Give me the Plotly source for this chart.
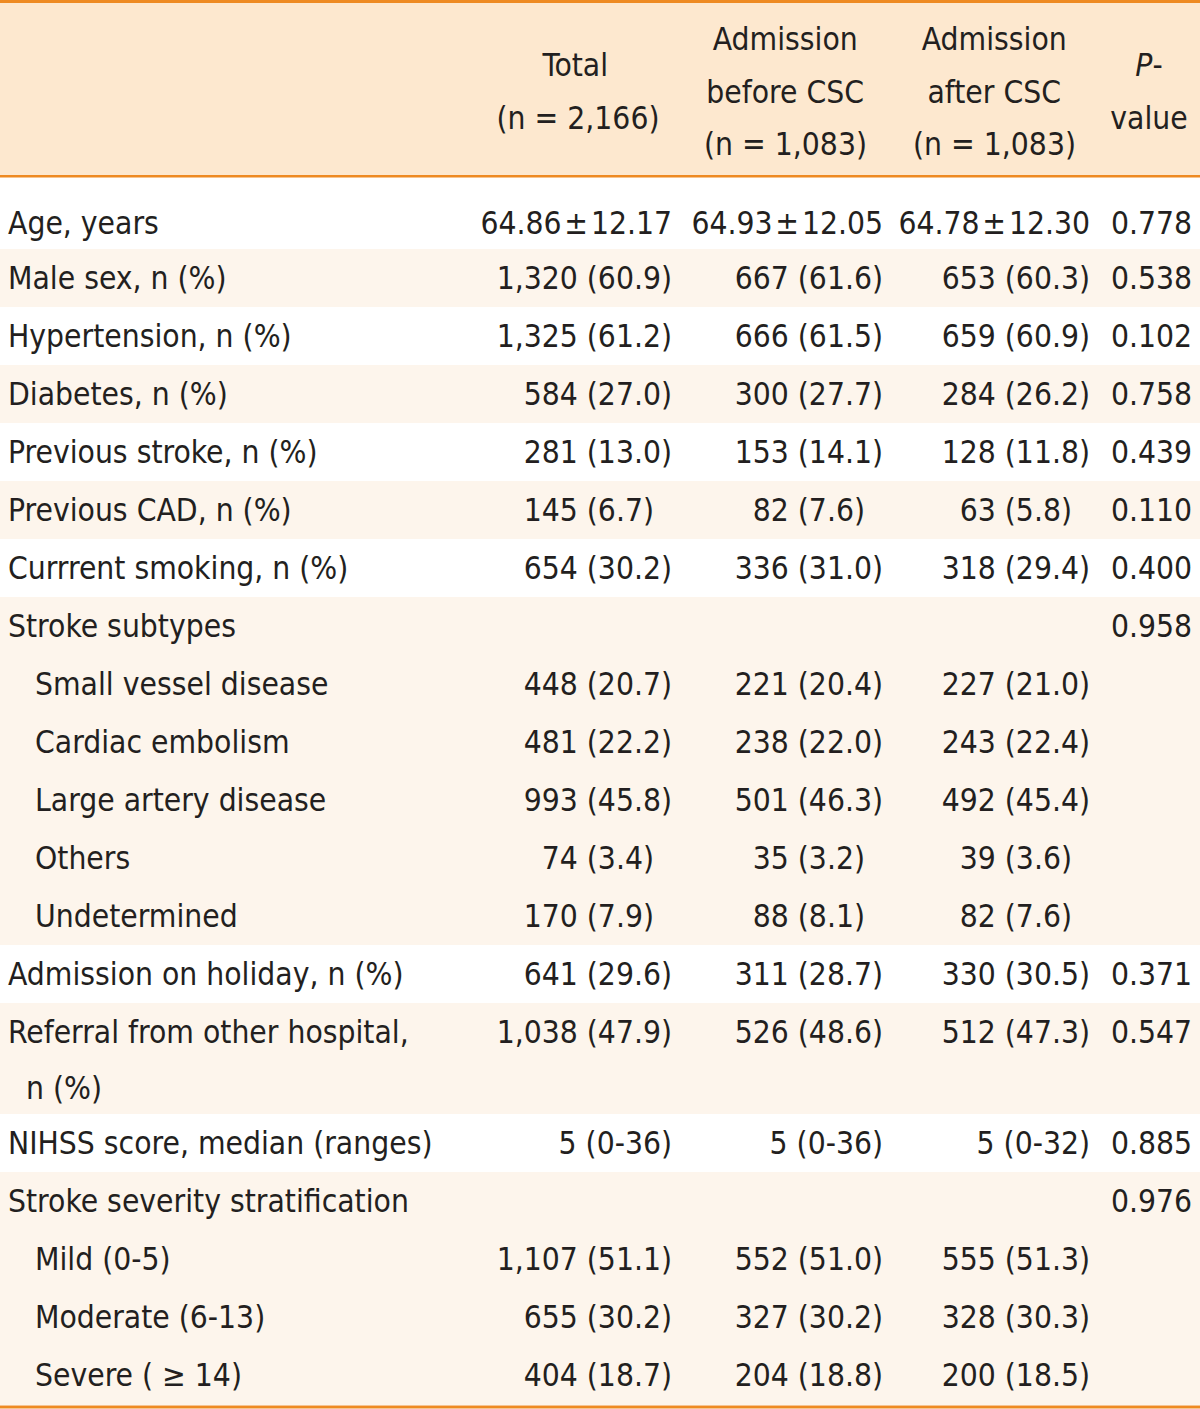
import re
import plotly.graph_objects as go

# ---------------- data ----------------
row_labels = [
    "Age, years", "Male sex, n (%)", "Hypertension, n (%)", "Diabetes, n (%)",
    "Previous stroke, n (%)", "Previous CAD, n (%)", "Currrent smoking, n (%)",
    "Stroke subtypes", "Small vessel disease", "Cardiac embolism",
    "Large artery disease", "Others", "Undetermined",
    "Admission on holiday, n (%)", "Referral from other hospital,|\u00a0\u00a0n (%)",
    "NIHSS score, median (ranges)", "Stroke severity stratification",
    "Mild (0-5)", "Moderate (6-13)", "Severe ( ≥ 14)",
]
row_indent = [0, 0, 0, 0, 0, 0, 0, 0, 1, 1, 1, 1, 1, 0, 0, 0, 0, 1, 1, 1]
row_group = [0, 1, 2, 3, 4, 5, 6, 7, 7, 7, 7, 7, 7, 8, 9, 10, 11, 11, 11, 11]

total = ["64.86 ± 12.17", "1,320 (60.9)", "1,325 (61.2)", "584 (27.0)", "281 (13.0)",
         "145 (6.7)", "654 (30.2)", "", "448 (20.7)", "481 (22.2)", "993 (45.8)",
         "74 (3.4)", "170 (7.9)", "641 (29.6)", "1,038 (47.9)", "5 (0-36)", "",
         "1,107 (51.1)", "655 (30.2)", "404 (18.7)"]
before_csc = ["64.93 ± 12.05", "667 (61.6)", "666 (61.5)", "300 (27.7)", "153 (14.1)",
              "82 (7.6)", "336 (31.0)", "", "221 (20.4)", "238 (22.0)", "501 (46.3)",
              "35 (3.2)", "88 (8.1)", "311 (28.7)", "526 (48.6)", "5 (0-36)", "",
              "552 (51.0)", "327 (30.2)", "204 (18.8)"]
after_csc = ["64.78 ± 12.30", "653 (60.3)", "659 (60.9)", "284 (26.2)", "128 (11.8)",
             "63 (5.8)", "318 (29.4)", "", "227 (21.0)", "243 (22.4)", "492 (45.4)",
             "39 (3.6)", "82 (7.6)", "330 (30.5)", "512 (47.3)", "5 (0-32)", "",
             "555 (51.3)", "328 (30.3)", "200 (18.5)"]
p_values = ["0.778", "0.538", "0.102", "0.758", "0.439", "0.110", "0.400", "0.958",
            "", "", "", "", "", "0.371", "0.547", "0.885", "0.976", "", "", ""]

header_lines = [
    [],
    ["Total", "(n = 2,166)"],
    ["Admission", "before CSC", "(n = 1,083)"],
    ["Admission", "after CSC", "(n = 1,083)"],
    ["<i>P</i>-", "value"],
]

# ---------------- style ----------------
W, H = 1200, 1409
FONT = "DejaVu Sans Condensed, Liberation Sans Narrow, Arial Narrow, sans-serif"
TXT = "#231F20"
ORANGE = "#EE8A22"
HEAD_BG = "#FDE8CF"
CREAM = "#FDF5EC"
WHITE = "#FFFFFF"
FS = 31.5              # visible text size
HB = 20.19             # header base font (half of the header line pitch)
BB = 14.4              # body base font (controls top offset of text)
ROW_H = 58
HEAD_H = 176
col_widths = [476, 204, 211, 207, 102]

NB = "\u00a0"
# approximate DejaVu Sans advance widths (em); condensed face is ~0.9x
ADV = {" ": .318, NB: .318, "A": .684, "d": .635, "m": .974, "i": .278, "s": .521,
       "o": .612, "n": .634, "b": .635, "e": .615, "f": .352, "r": .411, "C": .698,
       "S": .635, "a": .613, "t": .392, "T": .611, "l": .278, "(": .390, ")": .390,
       "=": .838, ",": .318, "P": .603, "-": .361, "v": .592, "u": .634}
COND = 0.9


def text_width(t):
    t = re.sub(r"<[^>]+>", "", t)
    return sum(ADV.get(ch, .636) for ch in t) * COND * FS


def big(t):
    return f"<span style='font-size:{FS}px'>{t}</span>"


def left_pad(px):
    nbw = ADV[NB] * COND * FS
    n = int(px // nbw)
    rem = px - n * nbw
    out = big(NB * n) if n else ""
    if rem > 0.5:
        out += f"<span style='font-size:{rem / (ADV[NB] * COND):.2f}px'>{NB}</span>"
    return out


def fmt_value(s):
    s = s.replace(" ± ", "\u200a±\u200a")
    if re.search(r"\(\d\.\d\)$", s):
        s = s + "\u2007"
    return s


def body_cell(s, first=False):
    if not s:
        return ""
    parts = s.split("|")
    lead = 2 if first else 1
    out = [NB] + [""] * (lead - 1) + [big(parts[0])]
    for p in parts[1:]:
        out += ["", "", big(p)]
    return "<br>".join(out)


def header_cell(lines):
    if not lines:
        return ""
    widths = [text_width(t) for t in lines]
    wmax = max(widths)
    offset = 1 if len(lines) == 3 else 2
    slots = [f"<span style='font-size:17px'>{NB}</span>"]
    for k, t in enumerate(lines):
        pos = offset + 2 * k
        while len(slots) < pos:
            slots.append("")
        slots.append(left_pad((wmax - widths[k]) / 2) + big(t))
    return "<br>".join(slots)


label_txt = [(NB * 3 + l) if i else l for l, i in zip(row_labels, row_indent)]
raw_cols = [label_txt,
            [fmt_value(v) for v in total],
            [fmt_value(v) for v in before_csc],
            [fmt_value(v) for v in after_csc],
            [fmt_value(v) for v in p_values]]
cols = [[body_cell(v, first=(r == 0)) for r, v in enumerate(c)] for c in raw_cols]

row_fill = [WHITE if g % 2 == 0 else CREAM for g in row_group]
fills = [row_fill] * 5

fig = go.Figure(go.Table(
    columnwidth=col_widths,
    domain=dict(x=[0, 1], y=[0, 1]),
    header=dict(
        values=[header_cell(h) for h in header_lines],
        align=["left", "center", "center", "center", "center"],
        fill_color=HEAD_BG,
        line=dict(color=HEAD_BG, width=1),
        font=dict(family=FONT, size=HB, color=TXT),
        height=HEAD_H,
    ),
    cells=dict(
        values=cols,
        align=["left", "right", "right", "right", "right"],
        fill_color=fills,
        line=dict(color=fills, width=1),
        font=dict(family=FONT, size=BB, color=TXT),
        height=ROW_H,
    ),
))


def py(px):
    return 1 - px / H


rules = [(0, 3), (HEAD_H - 1, HEAD_H + 1.5), (1405.5, 1408.5)]
for a, b in rules:
    fig.add_shape(type="rect", xref="paper", yref="paper", x0=0, x1=1,
                  y0=py(b), y1=py(a), fillcolor=ORANGE, line=dict(width=0))

fig.update_layout(
    width=W, height=H,
    margin=dict(l=0, r=0, t=0, b=0),
    paper_bgcolor=WHITE, plot_bgcolor=WHITE,
)
fig.write_html(
    "out.html",
    config={"displayModeBar": False},
    post_script="document.body.style.margin='0px';document.body.style.overflow='hidden';",
)
